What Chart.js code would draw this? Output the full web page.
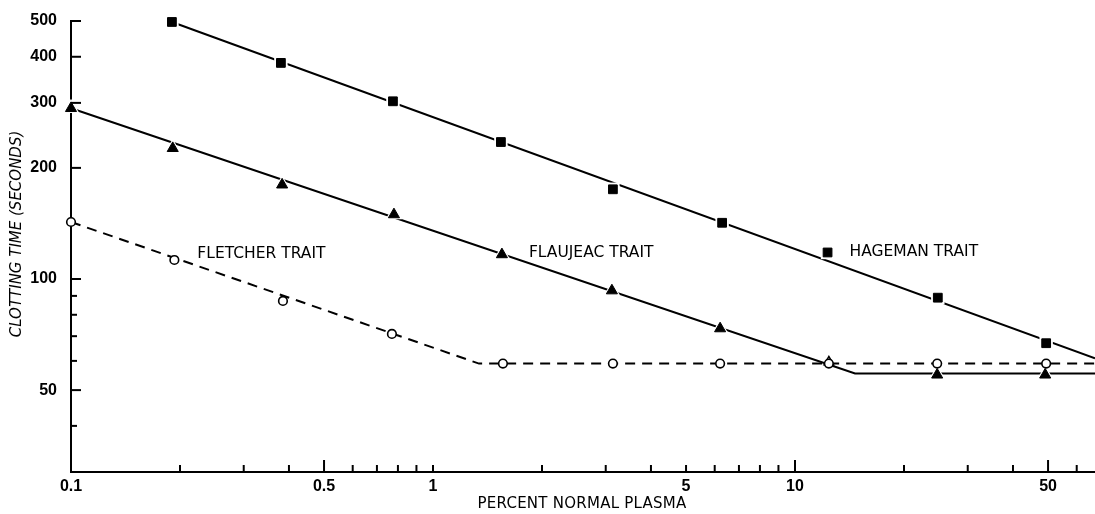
<!DOCTYPE html>
<html><head><meta charset="utf-8">
<script src="https://cdn.jsdelivr.net/npm/chart.js@4.4.1/dist/chart.umd.min.js"></script>
<style>html,body{margin:0;padding:0;background:#fff;overflow:hidden}#wrap{width:1095px;height:514px}</style>
</head><body>
<div id="wrap"><canvas id="c" width="1095" height="514"></canvas></div>
<script>
// ---- data ----
const hagemanX = [0.19, 0.38, 0.775, 1.54, 3.14, 6.29, 12.3, 24.8, 49.4];
const hagemanY = [497, 385, 303, 235, 175, 142, 118, 89, 67];
const hagemanFitX = [0.19, 67.4];
const hagemanFitY = [497, 61];

const flaujeacX = [0.1, 0.191, 0.383, 0.78, 1.55, 3.12, 6.21, 12.4, 24.7, 49.1];
const flaujeacY = [290, 226, 180, 149.5, 116.5, 93, 73.4, 59.6, 55, 55];
const flaujeacFitX = [0.1, 14.65, 67.4];
const flaujeacFitY = [290, 55.5, 55.5];

const fletcherX = [0.1, 0.193, 0.385, 0.77, 1.56, 3.14, 6.21, 12.4, 24.7, 49.4];
const fletcherY = [142.7, 112.6, 87.2, 71, 59, 59, 59, 59, 59, 59];
const fletcherFitX = [0.1, 1.34, 67.4];
const fletcherFitY = [142.7, 59, 59];

const seriesNames = ['FLETCHER TRAIT', 'FLAUJEAC TRAIT', 'HAGEMAN TRAIT'];
const xTickLabels = [0.1, 0.5, 1, 5, 10, 50];
const xMajorTicks = [0.5, 10, 50];
const xMinorTicks = [0.2, 0.3, 0.4, 0.6, 0.7, 0.8, 0.9, 1, 2, 3, 4, 5, 6, 7, 8, 9, 20, 30, 40, 60];
const yTickLabels = [50, 100, 200, 300, 400, 500];
const yMajorTicks = [50, 100, 200, 300, 400, 500];
const yMinorTicks = [40, 60, 70, 80, 90];
const xTitle = 'PERCENT NORMAL PLASMA';
const yTitle = 'CLOTTING TIME (SECONDS)';

// ---- styling / layout ----
const FONT = "'Liberation Sans', Arial, sans-serif";
const LFONT = "'DejaVu Sans', sans-serif";
const openTriangleIndex = 7;
const labelAnchors = [
  {series: 'fletcher', index: 1, dx: 23, dy: -6},
  {series: 'flaujeac', index: 4, dx: 27, dy: -1.5},
  {series: 'hageman', index: 6, dx: 22, dy: 0}
];

function pts(xs, ys) { return xs.map((x, i) => ({x: x, y: ys[i]})); }
const seriesData = {
  hageman: pts(hagemanX, hagemanY),
  flaujeac: pts(flaujeacX, flaujeacY),
  fletcher: pts(fletcherX, fletcherY)
};

const inwardTicks = {
  id: 'inwardTicks',
  afterDatasetsDraw(chart) {
    const {ctx, chartArea: a} = chart;
    const xs = chart.scales.x, ys = chart.scales.y;
    ctx.save();
    ctx.strokeStyle = '#000';
    ctx.lineWidth = 2;
    const seg = (x1, y1, x2, y2) => { ctx.beginPath(); ctx.moveTo(x1, y1); ctx.lineTo(x2, y2); ctx.stroke(); };
    xMinorTicks.forEach(v => { const p = xs.getPixelForValue(v); seg(p, a.bottom, p, a.bottom - 7); });
    xMajorTicks.forEach(v => { const p = xs.getPixelForValue(v); seg(p, a.bottom, p, a.bottom - 12); });
    yMinorTicks.forEach(v => { const p = ys.getPixelForValue(v); seg(a.left, p, a.left + 6, p); });
    yMajorTicks.forEach(v => { const p = ys.getPixelForValue(v); seg(a.left, p, a.left + 10, p); });
    ctx.restore();
  }
};

const textLabels = {
  id: 'textLabels',
  afterDraw(chart) {
    const {ctx} = chart;
    const xs = chart.scales.x, ys = chart.scales.y;
    ctx.save();
    ctx.fillStyle = '#000';
    ctx.textBaseline = 'middle';
    ctx.textAlign = 'left';
    ctx.font = '15.5px ' + LFONT;
    if ('letterSpacing' in ctx) ctx.letterSpacing = '0px';
    labelAnchors.forEach((an, i) => {
      const p = seriesData[an.series][an.index];
      ctx.fillText(seriesNames[i], xs.getPixelForValue(p.x) + an.dx, ys.getPixelForValue(p.y) + an.dy);
    });
    // axis titles
    ctx.textAlign = 'center';
    ctx.font = '15px ' + LFONT;
    if ('letterSpacing' in ctx) ctx.letterSpacing = '0.25px';
    ctx.fillText(xTitle, 582, 504);
    ctx.translate(17, 234);
    ctx.rotate(-Math.PI / 2);
    if ('letterSpacing' in ctx) ctx.letterSpacing = '0px';
    ctx.font = 'oblique 15px ' + LFONT;
    ctx.fillText(yTitle, 0, 0);
    ctx.restore();
  }
};

const lineBase = {showLine: true, borderColor: '#000', borderWidth: 2, pointRadius: 0, tension: 0, order: 10, clip: false};

new Chart(document.getElementById('c'), {
  type: 'scatter',
  data: {
    datasets: [
      Object.assign({label: 'Fletcher fit', data: pts(fletcherFitX, fletcherFitY), borderDash: [10, 7]}, lineBase),
      Object.assign({label: 'Flaujeac fit', data: pts(flaujeacFitX, flaujeacFitY)}, lineBase),
      Object.assign({label: 'Hageman fit', data: pts(hagemanFitX, hagemanFitY)}, lineBase),
      {label: 'halo sq', data: seriesData.hageman, pointStyle: 'rect', pointRadius: 9.5,
       pointBackgroundColor: '#fff', pointBorderWidth: 0, order: 5, clip: false},
      {label: 'halo tri', data: seriesData.flaujeac, pointStyle: 'triangle',
       pointRadius: c => c.dataIndex === openTriangleIndex ? 0 : 9.5,
       pointBackgroundColor: '#fff', pointBorderWidth: 0, order: 5, clip: false},
      {label: 'Hageman trait', data: seriesData.hageman, pointStyle: 'rect', pointRadius: 6.2,
       pointBackgroundColor: '#000', pointBorderColor: '#000', pointBorderWidth: 1, order: 2, clip: false},
      {label: 'Flaujeac trait', data: seriesData.flaujeac, pointStyle: 'triangle',
       pointRadius: c => c.dataIndex === openTriangleIndex ? 5.5 : 6.4,
       pointBackgroundColor: c => c.dataIndex === openTriangleIndex ? '#fff' : '#000',
       pointBorderColor: '#000', pointBorderWidth: c => c.dataIndex === openTriangleIndex ? 1.5 : 1, order: 2, clip: false},
      {label: 'Fletcher trait', data: seriesData.fletcher, pointStyle: 'circle', pointRadius: 4.3,
       pointBackgroundColor: '#fff', pointBorderColor: '#000', pointBorderWidth: 1.6, order: 1, clip: false}
    ]
  },
  options: {
    responsive: false,
    animation: false,
    devicePixelRatio: 1,
    layout: {autoPadding: false, padding: {top: 21, right: 0, left: 0, bottom: 0}},
    plugins: {legend: {display: false}, tooltip: {enabled: false}},
    scales: {
      x: {
        type: 'logarithmic', min: 0.1, max: 67.4, position: 'bottom',
        grid: {display: false, drawTicks: false},
        border: {display: true, color: '#000', width: 2},
        afterBuildTicks: s => { s.ticks = xTickLabels.map(v => ({value: v})); },
        afterFit: s => { s.height = 42; s.paddingLeft = 0; s.paddingRight = 0; },
        ticks: {autoSkip: false, maxRotation: 0, color: '#000', padding: 5,
                font: {family: FONT, size: 16, weight: 'bold'}, callback: v => String(v)}
      },
      y: {
        type: 'logarithmic', min: 30, max: 500, position: 'left',
        grid: {display: false, drawTicks: false},
        border: {display: true, color: '#000', width: 2},
        afterBuildTicks: s => { s.ticks = yTickLabels.map(v => ({value: v})); },
        afterFit: s => { s.width = 71; s.paddingTop = 0; s.paddingBottom = 0; },
        ticks: {autoSkip: false, color: '#000', padding: 14,
                font: {family: FONT, size: 16, weight: 'bold'}, callback: v => String(v)}
      }
    }
  },
  plugins: [inwardTicks, textLabels]
});
</script>
</body></html>
